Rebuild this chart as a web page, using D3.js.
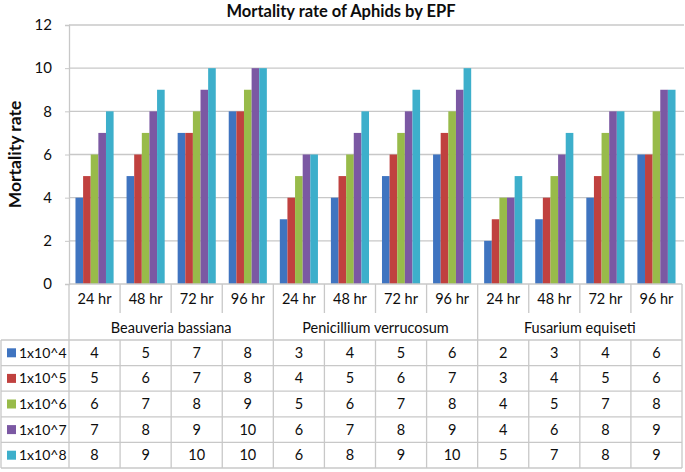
<!DOCTYPE html>
<html><head><meta charset="utf-8">
<script src="https://cdn.jsdelivr.net/npm/d3@7"></script>
<style>body{margin:0;background:#fff}svg{display:block}text{font-family:Lato,"Open Sans",sans-serif}</style>
</head><body><svg id="c" width="685" height="472"></svg>
<script>
const groups = ["Beauveria bassiana", "Penicillium verrucosum", "Fusarium equiseti"];
const times = ["24 hr", "48 hr", "72 hr", "96 hr"];
const seriesNames = ["1x10^4", "1x10^5", "1x10^6", "1x10^7", "1x10^8"];
const s1 = [4,5,7,8, 3,4,5,6, 2,3,4,6];
const s2 = [5,6,7,8, 4,5,6,7, 3,4,5,6];
const s3 = [6,7,8,9, 5,6,7,8, 4,5,7,8];
const s4 = [7,8,9,10, 6,7,8,9, 4,6,8,9];
const s5 = [8,9,10,10, 6,8,9,10, 5,7,8,9];
const yTicks = [0,2,4,6,8,10,12];
const colors = ["#3F74C0", "#C0413F", "#98BB4A", "#7B58A3", "#3DAFCB"];
const title = "Mortality rate of Aphids by EPF";
const yLabel = "Mortality rate";

const series = [s1,s2,s3,s4,s5];
const cats = [];
groups.forEach(g => times.forEach(t => cats.push(g + "|" + t)));

const svg = d3.select("#c");
const L = 69, R = 682, T = 25, B = 284;
const tableTop = 340, rowH = 25.6, tableLeft = 1;
const x = d3.scaleBand().domain(cats).range([L, R]);
const xg = d3.scaleBand().domain(groups).range([L, R]);
const xi = d3.scaleBand().domain(seriesNames).range([0, x.bandwidth()]).paddingInner(0).paddingOuter(0.85);
const y = d3.scaleLinear().domain([0, 12]).range([B, T]);
const grid = "#c8c8c8";
const ink = "#0d0d0d";

// gridlines
svg.append("g").selectAll("line").data(yTicks.filter(d => d > 0)).join("line")
  .attr("x1", L).attr("x2", R + 2).attr("y1", d => y(d)).attr("y2", d => y(d))
  .attr("stroke", grid).attr("stroke-width", 1.3);

// y axis
const ya = svg.append("g").attr("transform", `translate(${L},0)`)
  .call(d3.axisLeft(y).tickValues(yTicks).tickSize(4).tickPadding(13));
ya.select(".domain").attr("stroke", grid).attr("stroke-width", 1.3);
ya.selectAll(".tick line").attr("stroke", grid);
ya.selectAll("text").attr("font-size", 15).attr("fill", ink).attr("font-family", "Lato");

// bars
seriesNames.forEach((s, si) => {
  svg.append("g").selectAll("rect").data(series[si]).join("rect")
    .attr("x", (d, i) => x(cats[i]) + xi(s))
    .attr("width", xi.bandwidth())
    .attr("y", d => y(d)).attr("height", d => B - y(d))
    .attr("fill", colors[si]);
});

// title
svg.append("text").attr("x", 341).attr("y", 17).attr("text-anchor", "middle")
  .attr("font-size", 16.5).attr("font-weight", "bold").attr("fill", ink).text(title);
svg.append("text").attr("transform", `translate(21,${(T + B) / 2}) rotate(-90)`)
  .attr("text-anchor", "middle").attr("font-size", 17.5).attr("font-weight", "bold")
  .attr("fill", ink).text(yLabel);

// table lines
const tl = svg.append("g").attr("stroke", grid).attr("stroke-width", 1.3);
tl.append("line").attr("x1", L).attr("x2", R).attr("y1", B).attr("y2", B);
tl.append("line").attr("x1", L).attr("x2", L).attr("y1", B).attr("y2", tableTop + rowH * 5);
cats.forEach((c, i) => {
  if (i % 4 === 0) return;
  tl.append("line").attr("x1", x(c)).attr("x2", x(c)).attr("y1", B).attr("y2", 313);
});
groups.forEach((g, gi) => {
  if (gi === 0) return;
  tl.append("line").attr("x1", xg(g)).attr("x2", xg(g)).attr("y1", B).attr("y2", tableTop);
});
tl.append("line").attr("x1", R).attr("x2", R).attr("y1", B).attr("y2", tableTop + rowH * 5);
for (let r = 0; r <= 5; r++) {
  tl.append("line").attr("x1", tableLeft).attr("x2", R)
    .attr("y1", tableTop + r * rowH).attr("y2", tableTop + r * rowH);
}
tl.append("line").attr("x1", tableLeft).attr("x2", tableLeft).attr("y1", tableTop).attr("y2", tableTop + rowH * 5);
cats.forEach((c, i) => {
  if (i === 0) return;
  tl.append("line").attr("x1", x(c)).attr("x2", x(c)).attr("y1", tableTop).attr("y2", tableTop + rowH * 5);
});

// time labels
svg.append("g").selectAll("text").data(cats).join("text")
  .attr("x", d => x(d) + x.bandwidth() / 2).attr("y", 304).attr("text-anchor", "middle")
  .attr("font-size", 14.5).attr("fill", ink).text(d => d.split("|")[1]);
// group labels
svg.append("g").selectAll("text").data(groups).join("text")
  .attr("x", d => xg(d) + xg.bandwidth() / 2).attr("y", 333).attr("text-anchor", "middle")
  .attr("font-size", 14.5).attr("fill", ink).text(d => d);

// legend cells and values
seriesNames.forEach((s, si) => {
  const cy = tableTop + si * rowH + rowH / 2;
  svg.append("rect").attr("x", 7).attr("y", cy - 4.5).attr("width", 9).attr("height", 9).attr("fill", colors[si]);
  svg.append("text").attr("x", 19).attr("y", cy + 5).attr("font-size", 14).attr("fill", ink).text(s);
  svg.append("g").selectAll("text").data(series[si]).join("text")
    .attr("x", (d, i) => x(cats[i]) + x.bandwidth() / 2).attr("y", cy + 5)
    .attr("text-anchor", "middle").attr("font-size", 14.5).attr("fill", ink).text(d => d);
});
</script></body></html>
